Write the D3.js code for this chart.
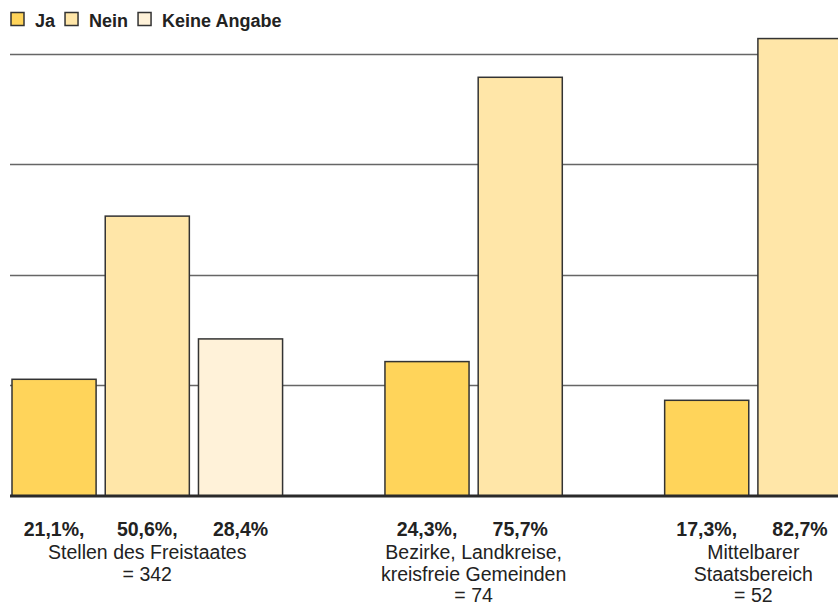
<!DOCTYPE html>
<html><head><meta charset="utf-8">
<script src="https://cdn.jsdelivr.net/npm/d3@7"></script>
<style>html,body{margin:0;padding:0;background:#fff;}svg{display:block;font-family:"Liberation Sans",Arial,Helvetica,sans-serif;}</style>
</head><body><svg id="c" width="838" height="605"></svg>
<script>
const categories = [
  ["Stellen des Freistaates", "= 342"],
  ["Bezirke, Landkreise,", "kreisfreie Gemeinden", "= 74"],
  ["Mittelbarer", "Staatsbereich", "= 52"]
];
const seriesNames = ["Ja", "Nein", "Keine Angabe"];
const seriesColors = ["#FFD45A", "#FFE6A8", "#FFF2D9"];
const jaValues = [21.1, 24.3, 17.3];
const neinValues = [50.6, 75.7, 82.7];
const keineValues = [28.4, null, null];
const gridTicks = [20, 40, 60, 80];

const svg = d3.select("#c");
const W = 838, baseY = 496;
const y = d3.scaleLinear().domain([0, 80]).range([baseY, 53.5]);

const seriesValues = [jaValues, neinValues, keineValues];
const bars = [];
const slots = [];
categories.forEach((c, gi) => {
  if (gi > 0) slots.push("gap" + gi);
  seriesValues.forEach((vals, si) => {
    if (vals[gi] != null) {
      const key = "g" + gi + "s" + si;
      slots.push(key);
      bars.push({key, gi, si, value: vals[gi]});
    }
  });
});
const x = d3.scaleBand().domain(slots).range([12, 842]).paddingInner(0.098).paddingOuter(0);

svg.append("g").selectAll("line").data(gridTicks).join("line")
  .attr("x1", 10).attr("x2", W)
  .attr("y1", d => Math.round(y(d)) + 0.5).attr("y2", d => Math.round(y(d)) + 0.5)
  .attr("stroke", "#666").attr("stroke-width", 1.4);

svg.append("g").selectAll("rect").data(bars).join("rect")
  .attr("x", d => x(d.key)).attr("width", x.bandwidth())
  .attr("y", d => y(d.value)).attr("height", d => baseY - y(d.value))
  .attr("fill", d => seriesColors[d.si])
  .attr("stroke", "#333").attr("stroke-width", 1.5);

svg.append("line").attr("x1", 10).attr("x2", W).attr("y1", baseY).attr("y2", baseY)
  .attr("stroke", "#2a2a2a").attr("stroke-width", 3);

const fmt = v => d3.format(".1f")(v).replace(".", ",") + "%";
svg.append("g").selectAll("text").data(bars).join("text")
  .attr("x", d => x(d.key) + x.bandwidth() / 2)
  .attr("y", 536)
  .attr("text-anchor", "middle")
  .attr("font-weight", "bold").attr("font-size", 19.5).attr("fill", "#222")
  .text(d => {
    const inGroup = bars.filter(b => b.gi === d.gi);
    return fmt(d.value) + (inGroup[inGroup.length - 1] === d ? "" : ",");
  });

categories.forEach((lines, gi) => {
  const gb = bars.filter(b => b.gi === gi);
  const cx = d3.mean(gb, b => x(b.key) + x.bandwidth() / 2);
  const t = svg.append("text").attr("text-anchor", "middle")
    .attr("font-size", 19.5).attr("fill", "#222");
  lines.forEach((ln, i) => {
    t.append("tspan").attr("x", cx).attr("y", 559 + i * 21.5).text(ln);
  });
});

const lg = svg.append("g");
let lx = 11;
seriesNames.forEach((name, i) => {
  lg.append("rect").attr("x", lx).attr("y", 12.5).attr("width", 13).attr("height", 13)
    .attr("fill", seriesColors[i]).attr("stroke", "#333").attr("stroke-width", 1.5);
  const t = lg.append("text").attr("x", lx + 24).attr("y", 26.5)
    .attr("font-weight", "bold").attr("font-size", 18).attr("fill", "#222").text(name);
  lx += 24 + t.node().getComputedTextLength() + 10;
});
</script></body></html>
